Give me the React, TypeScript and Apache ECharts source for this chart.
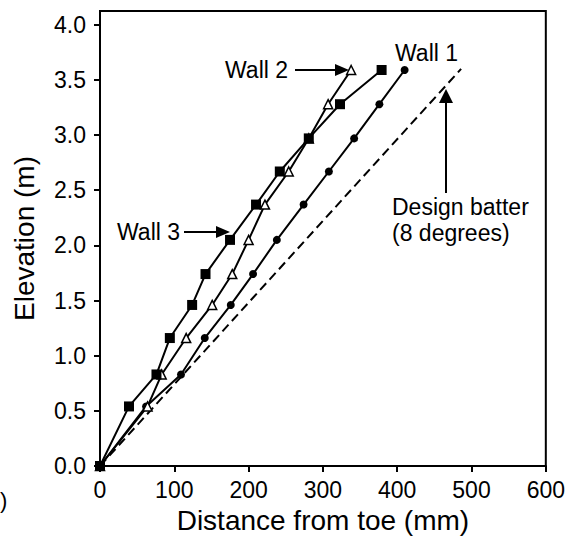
import React, { useEffect, useRef } from "react";
import * as echarts from "echarts";

// Elevation of each measured course (m), shared by the three walls
const elevation = [0, 0.54, 0.83, 1.16, 1.46, 1.74, 2.05, 2.37, 2.67, 2.97, 3.28, 3.59];
// Horizontal distance of the face from the toe at each course (mm)
const wall1 = [0, 62, 109, 141, 176, 206, 238, 274, 308, 342, 376, 410];
const wall2 = [0, 64, 83, 116, 151, 178, 200, 222, 254, 281, 307, 338];
const wall3 = [0, 39, 76, 94, 124, 142, 175, 210, 242, 281, 323, 379];
// Design batter line (8 degrees)
const batterDistance = [0, 486];
const batterElevation = [0, 3.6];

const xTicks = [0, 100, 200, 300, 400, 500, 600];
const yTicks = [0, 0.5, 1.0, 1.5, 2.0, 2.5, 3.0, 3.5, 4.0];

const FONT = "'Liberation Sans', Arial, Helvetica, sans-serif";

const pairs = (xs: number[], ys: number[]) => xs.map((x, i) => [x, ys[i]]);

export default function App() {
  const ref = useRef<HTMLDivElement>(null);

  useEffect(() => {
    if (!ref.current) return;
    const chart = echarts.init(ref.current, undefined, { renderer: "svg" });

    const axisText = { color: "#000", fontSize: 23, fontFamily: FONT };
    const annot = (text: string, x: number, y: number) => ({
      type: "text",
      x,
      y,
      z: 100,
      style: {
        text,
        fill: "#000",
        fontSize: 23,
        fontFamily: FONT,
        align: "left",
        verticalAlign: "middle",
      },
    });
    const line = (x1: number, y1: number, x2: number, y2: number) => ({
      type: "line",
      z: 100,
      shape: { x1, y1, x2, y2 },
      style: { stroke: "#000", lineWidth: 2 },
    });
    const head = (pts: number[][]) => ({
      type: "polygon",
      z: 100,
      shape: { points: pts },
      style: { fill: "#000" },
    });

    chart.setOption({
      animation: false,
      backgroundColor: "#fff",
      grid: {
        left: 100,
        right: 22,
        top: 11,
        bottom: 80,
        show: true,
        borderColor: "#000",
        borderWidth: 2,
        containLabel: false,
      },
      xAxis: {
        type: "value",
        min: 0,
        max: 600,
        interval: 100,
        name: "Distance from toe (mm)",
        nameLocation: "middle",
        nameGap: 40,
        nameTextStyle: { color: "#000", fontSize: 28, fontFamily: FONT },
        axisLine: { show: true, lineStyle: { color: "#000", width: 2 } },
        axisTick: {
          show: true,
          inside: false,
          length: 6,
          lineStyle: { color: "#000", width: 2 },
          customValues: xTicks,
        },
        axisLabel: {
          ...axisText,
          margin: 12,
          customValues: xTicks,
          formatter: (v: number) => String(v),
        },
        splitLine: { show: false },
      },
      yAxis: {
        type: "value",
        min: 0,
        max: 4.125,
        name: "Elevation (m)",
        nameLocation: "middle",
        nameGap: 62,
        nameTextStyle: { color: "#000", fontSize: 28, fontFamily: FONT },
        axisLine: { show: true, lineStyle: { color: "#000", width: 2 } },
        axisTick: {
          show: true,
          inside: false,
          length: 6,
          lineStyle: { color: "#000", width: 2 },
          customValues: yTicks,
        },
        axisLabel: {
          ...axisText,
          margin: 14,
          customValues: yTicks,
          formatter: (v: number) => v.toFixed(1),
        },
        splitLine: { show: false },
      },
      series: [
        {
          name: "Design batter",
          type: "line",
          data: pairs(batterDistance, batterElevation),
          symbol: "none",
          lineStyle: { color: "#000", width: 2, type: [9, 5] },
          z: 1,
        },
        {
          name: "Wall 1",
          type: "line",
          data: pairs(wall1, elevation),
          symbol: "circle",
          symbolSize: 8,
          itemStyle: { color: "#000" },
          lineStyle: { color: "#000", width: 2 },
          z: 2,
        },
        {
          name: "Wall 2",
          type: "line",
          data: pairs(wall2, elevation),
          symbol: "triangle",
          symbolSize: 9,
          itemStyle: { color: "#fff", borderColor: "#000", borderWidth: 1.5 },
          lineStyle: { color: "#000", width: 2 },
          z: 3,
        },
        {
          name: "Wall 3",
          type: "line",
          data: pairs(wall3, elevation),
          symbol: "rect",
          symbolSize: 10,
          itemStyle: { color: "#000" },
          lineStyle: { color: "#000", width: 2 },
          z: 4,
        },
      ],
      graphic: [
        annot("Wall 1", 395, 53),
        annot("Wall 2", 225, 70),
        line(295, 70, 337, 70),
        head([[349, 70], [335, 64], [335, 76]]),
        annot("Wall 3", 117, 232),
        line(184, 232, 218, 232),
        head([[230, 232], [216, 226], [216, 238]]),
        annot("Design batter", 392, 207),
        annot("(8 degrees)", 392, 233),
        line(446, 193, 446, 100),
        head([[446, 89], [439, 103], [453, 103]]),
        {
          type: "text",
          x: 0,
          y: 500,
          style: {
            text: ")",
            fill: "#000",
            fontSize: 22,
            fontFamily: FONT,
            align: "left",
            verticalAlign: "middle",
          },
        },
      ],
    });

    return () => chart.dispose();
  }, []);

  return (
    <div
      ref={ref}
      style={{ position: "absolute", left: 0, top: 0, width: 568, height: 546 }}
    />
  );
}
